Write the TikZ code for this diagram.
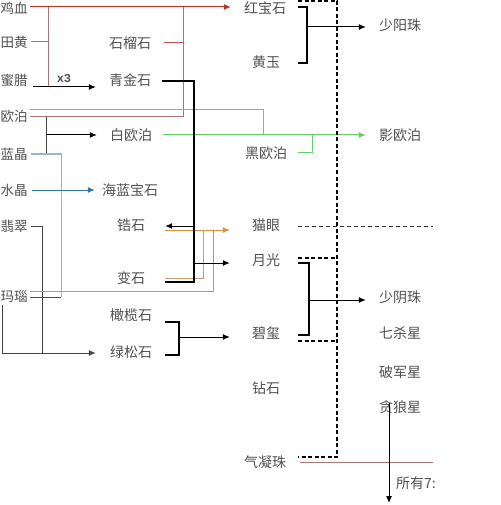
\documentclass[tikz,border=0pt]{standalone}
\usepackage{fontspec}
\newfontfamily\cjk{Noto Sans CJK SC}
\newfontfamily\monof{Liberation Mono}
\usetikzlibrary{arrows.meta}
\definecolor{txt}{HTML}{505050}
\definecolor{darkred}{HTML}{B5322F}
\definecolor{rose}{HTML}{A87474}
\definecolor{lgreen}{HTML}{66CC66}
\definecolor{lblue}{HTML}{93B6C8}
\definecolor{dteal}{HTML}{2A5A70}
\definecolor{mblue}{HTML}{2F75A8}
\definecolor{orng}{HTML}{D9913A}
\definecolor{tan}{HTML}{C8A070}
\definecolor{dgray}{HTML}{444444}
\tikzset{
  lbl/.style={font=\cjk\fontsize{14}{14}\selectfont, text=txt, inner sep=0pt},
  leftlbl/.style={font=\cjk\fontsize{13.5}{13.5}\selectfont, text=txt, inner sep=0pt, anchor=west},
  ln/.style={line width=1pt},
  arr/.style={ln, -{Latex[length=7pt,width=6pt]}},
  brk/.style={line width=1.5pt, black},
  dsh/.style={line width=1.4pt, black, dash pattern=on 4pt off 2.5pt},
  tdsh/.style={line width=0.9pt, black!80, dash pattern=on 4pt off 3pt},
}
\begin{document}
\begin{tikzpicture}[x=1pt,y=-1pt]
\useasboundingbox (0,0) rectangle (500,505);
% left column
\node[leftlbl] (jx) at (0.5,8) {鸡血};
\node[leftlbl] (tj) at (0.5,42) {田黄};
\node[leftlbl] (ml) at (0.5,80) {蜜腊};
\node[leftlbl] (ob) at (0.5,116) {欧泊};
\node[leftlbl] (lj) at (0.5,154) {蓝晶};
\node[leftlbl] (sj) at (0.5,190) {水晶};
\node[leftlbl] (fc) at (0.5,226) {翡翠};
\node[leftlbl] (mn) at (0.5,296) {玛瑙};
% middle column
\node[lbl] (slz) at (130,43) {石榴石};
\node[lbl] (qjs) at (130,80) {青金石};
\node[lbl] (bob) at (131,135) {白欧泊};
\node[lbl] (hlbs) at (130,190) {海蓝宝石};
\node[lbl] (gs) at (131,225) {锆石};
\node[lbl] (bs) at (131,278) {变石};
\node[lbl] (gls) at (131,315) {橄榄石};
\node[lbl] (lss) at (131,352) {绿松石};
% right column
\node[lbl] (hbs) at (265,8) {红宝石};
\node[lbl] (hy) at (266,62) {黄玉};
\node[lbl] (hob) at (266,153) {黑欧泊};
\node[lbl] (my) at (266,225) {猫眼};
\node[lbl] (yg) at (266,260) {月光};
\node[lbl] (bx) at (266,333) {碧玺};
\node[lbl] (zs) at (266,388) {钻石};
\node[lbl] (qnz) at (265,462) {气凝珠};
% far right
\node[lbl] (syz) at (400,25) {少阳珠};
\node[lbl] (yob) at (400,135) {影欧泊};
\node[lbl] (syn) at (400,297) {少阴珠};
\node[lbl] (qsx) at (400,333) {七杀星};
\node[lbl] (pjx) at (400,372) {破军星};
\node[lbl] (tlx) at (400,407) {贪狼星};
\node[lbl, anchor=west] (sy7) at (396,483) {所有7:};
\node[font=\monof\bfseries\fontsize{12}{12}\selectfont, text=txt, inner sep=0pt] (x3) at (64,79) {x3};
% free-end coordinates
\coordinate (rtop) at (298,1);
\coordinate (dv) at (337,1);
\coordinate (mybend) at (433,226);
\coordinate (qend) at (433,462);
\coordinate (mnb) at (2,305);
% red / rose
\draw[arr, darkred] (30,7) -- ([xshift=-13pt]hbs.west |- 0,7);
\draw[ln, rose] (48,7) -- (48,87);
\draw[ln, rose] ([xshift=3pt]tj.east) -- (48,42);
\draw[ln, rose] ([xshift=2pt]ob.east |- 0,117) -- (183,117) -- (183,7);
\draw[ln, darkred!85] ([xshift=13pt]slz.east) -- (183,43);
% x3 arrow
\draw[arr, black] (33,87) -- ([xshift=-13pt]qjs.west |- 0,87);
% green
\draw[ln, lgreen] ([xshift=2pt]ob.east |- 0,110) -- (263,110) -- (263,135);
\draw[arr, lgreen] ([xshift=11pt]bob.east) -- ([xshift=-13pt]yob.west);
\draw[ln, lgreen] ([xshift=11pt]hob.east) -- (312,153) -- (312,135);
% gray to 白欧泊
\draw[ln, dgray] (46,117) -- (46,154);
\draw[arr, black] (46,135) -- ([xshift=-13pt]bob.west);
% blue
\draw[ln, lblue] ([xshift=3pt]lj.east) -- (61,154) -- (61,297);
\draw[ln, dteal] ([xshift=2pt]mn.east |- 0,297) -- (61,297);
\draw[arr, mblue] ([xshift=4pt]sj.east) -- ([xshift=-7pt]hlbs.west);
% dark to 绿松石
\draw[ln, dgray] ([xshift=3pt]fc.east) -- (42,226) -- (42,353);
\draw[arr, dgray] (mnb) -- (2,353) -- ([xshift=-14pt]lss.west |- 0,353);
% orange
\draw[ln, orng] ([xshift=2pt]mn.east |- 0,291) -- (213,291) -- (213,230);
\draw[arr, orng] (165,230) -- ([xshift=-22pt]my.west |- 0,230);
\draw[ln, tan] (165,278) -- (203,278) -- (203,230);
% black from 青金石
\draw[line width=1.3pt, black] ([xshift=11pt]qjs.east |- 0,81) -- (194,81) -- (194,282) -- (165,282);
\draw[arr, black] (194,226) -- ([xshift=20pt]gs.east |- 0,226);
\draw[arr, black] (194,263) -- ([xshift=-22pt]yg.west |- 0,263);
% 橄榄石/绿松石 bracket
\draw[brk] (165,322) -- (179,322) -- (179,355) -- (165,355);
\draw[arr, black] (179,337) -- ([xshift=-22pt]bx.west |- 0,337);
% dashed
\draw[dsh] (rtop) -- (dv) -- (337,457) -- (298,457);
\draw[dsh] (298,258) -- (337,258);
\draw[dsh] (298,341) -- (337,341);
\draw[tdsh] (298,226) -- (mybend);
% right brackets
\draw[brk] (298,7) -- (307,7) -- (307,63) -- (298,63);
\draw[arr, black] (307,27) -- ([xshift=-13pt]syz.west |- 0,27);
\draw[brk] (298,263) -- (309,263) -- (309,335) -- (298,335);
\draw[arr, black] (309,300) -- ([xshift=-13pt]syn.west |- 0,300);
% bottom
\draw[ln, rose] (300,462) -- (qend);
\draw[arr, black] ([yshift=11pt]tlx.south -| 389,0) -- (389,503);
\end{tikzpicture}
\end{document}
